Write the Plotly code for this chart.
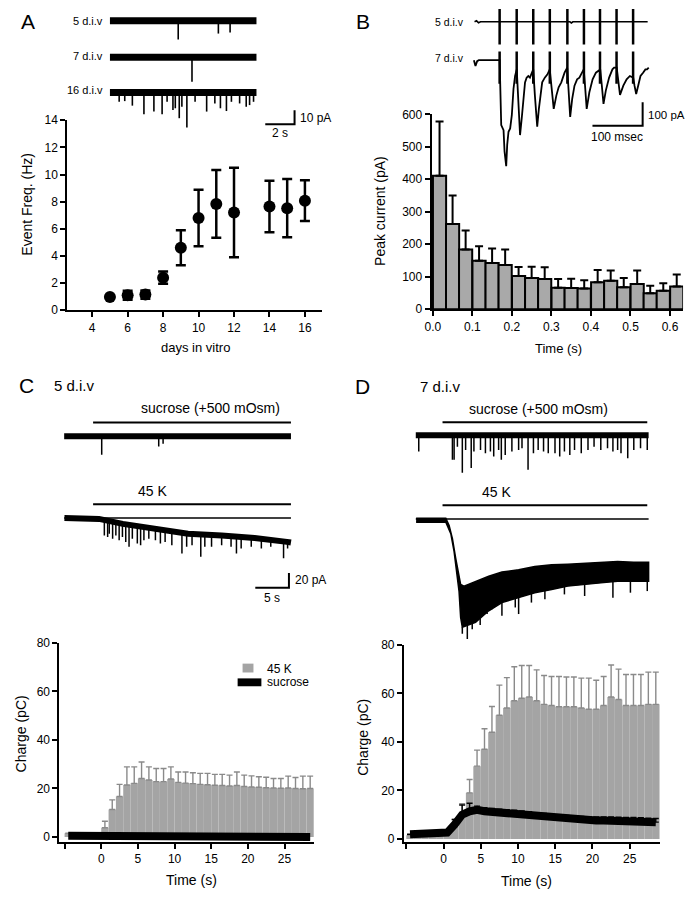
import numpy as np
import plotly.graph_objects as go

W, H = 687, 900
FONT = "Liberation Sans, Arial, Helvetica, sans-serif"

# ---------------- Panel A : event frequency ----------------
days = [5, 6, 7, 8, 9, 10, 11, 12, 14, 15, 16]
freq = [0.97, 1.10, 1.15, 2.40, 4.60, 6.80, 7.83, 7.20, 7.64, 7.52, 8.07]
freq_err = [0.10, 0.33, 0.30, 0.45, 1.29, 2.08, 2.50, 3.30, 1.90, 2.15, 1.50]

# example sweeps (10 s), spikes: time (s) and amplitude (pA)
a_sweep_s = [0.0, 10.0]
a5_spike_s = [4.66, 7.40, 8.20]
a5_spike_pa = [13.6, 9.3, 8.6]
a7_spike_s = [5.60]
a7_spike_pa = [17.9]
a16_spike_s = [0.63, 1.01, 1.53, 2.32, 3.00, 3.56, 3.90, 4.30, 4.46, 4.73, 4.91,
               5.25, 5.81, 6.60, 7.16, 7.54, 7.95, 8.29, 8.85, 9.30, 9.53, 9.80]
a16_spike_pa = [6.7, 6.2, 9.5, 15.7, 13.8, 15.7, 6.7, 12.6, 11.4, 18.6, 10.3,
                25.3, 6.7, 13.8, 7.9, 11.4, 13.4, 6.7, 7.9, 10.3, 9.1, 6.7]

# ---------------- Panel B : peak current during train ----------------
b_time = [0.017, 0.050, 0.083, 0.117, 0.150, 0.183, 0.217, 0.250, 0.283, 0.317,
          0.350, 0.383, 0.417, 0.450, 0.483, 0.517, 0.550, 0.583, 0.617]
b_peak = [411, 262, 184, 149, 142, 136, 102, 96, 93, 66, 65, 64, 83, 88, 68, 78, 49, 57, 70]
b_peak_err = [167, 88, 58, 45, 45, 48, 28, 35, 36, 27, 29, 25, 38, 31, 28, 41, 23, 23, 37]

b_stim_ms = [0, 34, 67, 100, 135, 168, 200, 233, 266]
b5_ms = [-50, -46, -42, -38, 140, 143, 146, 295]
b5_pa = [0, 4, -4, 0, 0, -5, 0, 0]
b7_ms = [-51.3, -48.1, -44.8, -41.5, -3.4, 0, 3.2, 7.8, 9.8, 13.1, 15.1, 17.7, 21.0, 24.3,
         27.6, 30.8, 34.1, 37.4, 40.7, 44.0, 47.3, 50.6, 53.8, 57.1, 60.4, 63.7, 67.0,
         70.3, 74.9, 78.2, 81.5, 84.8, 90.0, 95.3, 99.9, 103.2, 107.8, 113.0, 117.6,
         122.9, 129.4, 134.7, 137.3, 140.6, 144.6, 149.2, 154.4, 159.0, 162.3, 167.6,
         170.2, 173.5, 178.8, 185.3, 191.9, 200.5, 203.7, 207.0, 211.6, 218.2, 224.8,
         228.1, 233.3, 236.0, 239.9, 246.5, 253.1, 259.6, 266.2, 268.8, 272.1, 276.1,
         280.7, 285.9, 290.5, 293.8, 297.1]
b7_pa = [0, -25, -4, 0, 0, 0, -275, -296, -386, -449, -358, -303, -289, -233, -122, -67,
         -39, -178, -317, -247, -150, -94, -74, -67, -74, -53, -39, -150, -282, -206,
         -136, -94, -74, -60, -39, -108, -206, -150, -115, -94, -53, -32, -136, -240,
         -164, -108, -81, -74, -60, -39, -108, -206, -136, -81, -53, -39, -108, -185,
         -129, -74, -39, -32, -32, -81, -147, -108, -81, -67, -74, -108, -143, -108,
         -67, -53, -39, -39, -32]

# ---------------- Panels C / D : charge ----------------
cd_time = [-4.5, -3.5, -2.5, -1.5, -0.5, 0.5, 1.5, 2.5, 3.5, 4.5, 5.5, 6.5, 7.5, 8.5,
           9.5, 10.5, 11.5, 12.5, 13.5, 14.5, 15.5, 16.5, 17.5, 18.5, 19.5, 20.5,
           21.5, 22.5, 23.5, 24.5, 25.5, 26.5, 27.5, 28.5]
c_k = [1.5, 1.5, 1.5, 1.5, 1.5, 3.8, 11.3, 16.7, 21.4, 22.1, 24.1, 23.5, 22.8, 22.8,
       23.9, 22.5, 22.2, 22.0, 21.7, 21.5, 21.3, 21.2, 21.0, 21.2, 20.8, 20.6, 20.5,
       20.3, 20.2, 20.1, 20.2, 20.0, 19.9, 20.0]
c_k_err = [0, 0, 0, 0, 0, 2.7, 4.0, 5.0, 7.5, 6.8, 6.8, 5.4, 5.4, 5.4, 5.0, 4.3, 4.6,
           4.5, 4.5, 4.7, 4.5, 4.6, 4.5, 5.6, 4.7, 4.6, 4.3, 4.3, 3.9, 4.0, 4.9, 4.5,
           5.2, 5.1]
c_suc = [0.5, 0.5, 0.5, 0.5, 0.5, 0.2, 0.1, 0.1, 0.1, 0.0, 0.0, 0.0, 0.0, 0.0, 0.0,
         0.0, 0.0, 0.0, 0.0, 0.0, 0.0, 0.0, 0.0, 0.0, 0.0, 0.0, 0.0, 0.0, 0.0, 0.0,
         0.0, 0.0, 0.0, 0.0]
d_k = [1.5, 1.5, 1.5, 1.5, 1.5, 2.5, 5.0, 10.0, 19.0, 30.0, 37.0, 44.0, 51.0, 54.0,
       57.0, 58.0, 58.5, 57.0, 55.5, 55.0, 54.5, 54.5, 54.5, 54.0, 53.5, 53.5, 55.0,
       58.5, 57.5, 55.0, 55.0, 55.0, 55.5, 55.5]
d_k_err = [0, 0, 0, 0, 0, 0.5, 3.0, 4.5, 5.5, 6.6, 8.4, 10.6, 12.4, 12.5, 14.0, 13.5,
           13.0, 12.7, 11.9, 12.0, 12.5, 12.3, 12.3, 12.3, 12.8, 11.9, 12.0, 13.2, 12.5,
           12.8, 12.8, 12.8, 13.3, 13.3]
d_suc = [1.9, 1.9, 1.9, 1.9, 1.9, 2.6, 6.0, 10.0, 11.4, 12.0, 11.4, 11.1, 10.7, 10.5,
         10.3, 10.0, 9.7, 9.3, 9.0, 8.6, 8.4, 8.2, 8.0, 7.8, 7.7, 7.6, 7.6, 7.6, 7.4,
         7.3, 7.3, 7.2, 7.0, 6.9]
d_suc_err = [0, 0, 0, 0, 0, 0.5, 2.0, 4.0, 3.3, 1.5, 1.5, 1.5, 1.5, 1.5, 1.5, 1.5, 1.5,
             1.5, 1.5, 1.5, 1.5, 1.5, 1.5, 1.5, 1.5, 1.5, 1.5, 1.5, 1.5, 1.5, 1.5, 1.5,
             1.5, 1.5]

# current sweeps for C / D (time s, current pA)
c_app_s = [0.0, 29.4]
c_sweep_s = [-4.3, 29.4]
c_suc_spike_s = [1.28, 9.75, 10.4]
c_suc_spike_pa = [-25, -14, -10]
c_k_s = [-4.26, 0.88, 4.41, 9.26, 14.1, 19.1, 24.0, 28.8, 29.4]
c_k_pa = [0, -1.3, -8, -14.7, -21.3, -23.6, -27, -32.4, -33.3]
c_k_spike_s = [1.67, 2.16, 2.4, 2.9, 3.38, 3.87, 4.36, 4.85, 5.34, 5.83, 6.57, 7.06, 7.55,
               8.28, 9.26, 10.0, 10.7, 11.7, 13.2, 13.9, 14.7, 16.0, 16.6, 17.6, 19.1,
               20.5, 21.3, 22.0, 23.5, 25.0, 26.4, 28.3, 28.9]
c_k_spike_pa = [-23.6, -25.8, -21.3, -28, -23.6, -30.2, -25.8, -32.4, -39.1, -28, -34.7,
                -36.9, -30.2, -28, -30.2, -34.7, -32.4, -36.9, -48, -39.1, -36.9, -52.4,
                -39.1, -39.1, -36.9, -39.1, -48, -41.3, -39.1, -41.3, -39.1, -54.7, -41.3]

d_app_s = [0.0, 30.4]
d_sweep_s = [-3.97, 30.6]
d_suc_spike_s = [-3.53, 1.47, 1.72, 2.21, 2.94, 3.43, 4.26, 4.66, 5.64, 6.37, 7.11, 7.6,
                 8.33, 8.73, 9.31, 10.3, 11.3, 11.8, 12.7, 13.5, 14.2, 15.0, 15.7, 16.7,
                 17.4, 18.1, 18.9, 19.6, 20.6, 21.6, 22.5, 23.5, 24.5, 25.3, 26.0, 26.5,
                 27.5, 28.4, 29.4, 30.4]
d_suc_spike_pa = [-22.2, -33.3, -33.3, -15.6, -51, -20, -44.4, -22.2, -20, -24.4, -22.2,
                  -28.9, -20, -33.3, -26.7, -22.2, -20, -17.8, -46.7, -24.4, -20, -22.2,
                  -24.4, -24.4, -28.9, -22.2, -26.7, -20, -24.4, -20, -15.6, -20, -17.8,
                  -22.2, -20, -24.4, -31.1, -20, -17.8, -20]
d_k_up_s = [-3.92, 0.49, 0.98, 1.47, 1.96, 2.35, 2.69, 3.19, 4.9, 6.86, 8.82, 11.3, 13.7,
            16.2, 18.6, 21.1, 23.5, 26.0, 28.4, 30.6]
d_k_up_pa = [0, 0, -9.8, -27.6, -54.3, -76.5, -89.8, -92, -85.4, -78.7, -72.9, -69.8,
             -65.4, -63.2, -62.3, -60.9, -59.6, -58.7, -59.6, -59.6]
d_k_lo_s = [-3.92, 0.49, 1.23, 1.72, 2.06, 2.45, 2.69, 2.94, 4.9, 6.86, 8.82, 11.3, 13.7,
            16.2, 18.6, 21.1, 23.5, 26.0, 28.4, 30.6]
d_k_lo_pa = [-5.4, -5.4, -20.9, -45.4, -67.6, -98.7, -134.3, -147.6, -140.9, -125.4,
             -114.3, -107.6, -100.9, -96.5, -92, -89.8, -87.6, -85.4, -85.4, -85.4]
d_k_spike_s = [2.94, 3.68, 4.41, 5.59, 6.62, 7.35, 8.82, 10.8, 11.3, 13.2, 15.2, 18.1,
               21.1, 25.3, 27.9, 30.4]
d_k_spike_pa = [-156.6, -163.6, -150.3, -144.6, -129.6, -123.2, -132, -120.9, -129.8,
                -114.3, -109.8, -103.2, -105.4, -107.6, -100.9, -98.7]

# ---------------- helpers ----------------
def dom_x(a, b):
    return [a / W, b / W]


def dom_y(top, bottom):
    return [1 - bottom / H, 1 - top / H]


def segs(ts, y0s, y1s):
    xs, ys = [], []
    for t, a, b in zip(ts, y0s, y1s):
        xs += [t, t, None]
        ys += [a, b, None]
    return xs, ys


def axis(domain, rng, anchor, **kw):
    d = dict(domain=domain, range=rng, anchor=anchor, showline=True, linecolor="black",
             linewidth=2, ticks="outside", ticklen=5, tickwidth=2, tickcolor="black",
             showgrid=False, zeroline=False, fixedrange=True,
             tickfont=dict(size=12, color="black", family=FONT))
    d.update(kw)
    return d


def hidden(domain, rng, anchor):
    return dict(domain=domain, range=rng, anchor=anchor, visible=False,
                showgrid=False, zeroline=False, fixedrange=True)


fig = go.Figure()

# ---------- A main ----------
fig.add_trace(go.Scatter(
    x=days, y=freq, mode="markers", xaxis="x", yaxis="y", cliponaxis=False,
    marker=dict(color="black", size=12),
    error_y=dict(type="data", array=freq_err, color="black", thickness=2.5, width=5)))

# ---------- A sweeps ----------
A_OFF = [0.0, -26.4, -52.1]
for off, st, sa in zip(A_OFF, [a5_spike_s, a7_spike_s, a16_spike_s],
                       [a5_spike_pa, a7_spike_pa, a16_spike_pa]):
    fig.add_trace(go.Scatter(x=a_sweep_s, y=[off, off], mode="lines", xaxis="x5", yaxis="y5",
                             line=dict(color="black", width=7)))
    xs, ys = segs(st, [off] * len(st), [off - a for a in sa])
    fig.add_trace(go.Scatter(x=xs, y=ys, mode="lines", xaxis="x5", yaxis="y5",
                             line=dict(color="black", width=1.6)))
# scale bar A (2 s, 10 pA)
fig.add_trace(go.Scatter(x=[10.6, 12.6, 12.6], y=[-75, -75, -65], mode="lines",
                         xaxis="x5", yaxis="y5", line=dict(color="black", width=2)))

# ---------- B main ----------
fig.add_trace(go.Bar(
    x=b_time, y=b_peak, width=0.0333, xaxis="x2", yaxis="y2",
    marker=dict(color="#a9a9a9", line=dict(color="black", width=2)),
    error_y=dict(type="data", symmetric=False, array=b_peak_err,
                 arrayminus=[0] * len(b_peak_err), color="black", thickness=2, width=4)))

# ---------- B sweeps ----------
B5_OFF = 162.5
fig.add_trace(go.Scatter(x=b5_ms, y=[v + B5_OFF for v in b5_pa], mode="lines",
                         xaxis="x6", yaxis="y6", line=dict(color="black", width=1.6)))
xs, ys = segs(b_stim_ms, [B5_OFF + 54] * 9, [B5_OFF - 96] * 9)
fig.add_trace(go.Scatter(x=xs, y=ys, mode="lines", xaxis="x6", yaxis="y6",
                         line=dict(color="black", width=2.5)))
fig.add_trace(go.Scatter(x=b7_ms, y=b7_pa, mode="lines", xaxis="x6", yaxis="y6",
                         line=dict(color="black", width=1.8)))
xs, ys = segs(b_stim_ms, [37] * 9, [-100] * 9)
fig.add_trace(go.Scatter(x=xs, y=ys, mode="lines", xaxis="x6", yaxis="y6",
                         line=dict(color="black", width=2.5)))
fig.add_trace(go.Scatter(x=[185, 285, 285], y=[-278, -278, -178], mode="lines",
                         xaxis="x6", yaxis="y6", line=dict(color="black", width=2)))

# ---------- C / D charge ----------
for xa, ya, kv, ke, sv, se in [("x3", "y3", c_k, c_k_err, c_suc, None),
                               ("x4", "y4", d_k, d_k_err, d_suc, d_suc_err)]:
    fig.add_trace(go.Bar(
        x=cd_time, y=kv, width=1.0, xaxis=xa, yaxis=ya,
        marker=dict(color="#a4a4a4", line=dict(width=0)),
        error_y=dict(type="data", symmetric=False, array=ke, arrayminus=[0] * len(ke),
                     color="#8a8a8a", thickness=1.4, width=3)))
    sc = dict(x=cd_time, y=sv, mode="lines", xaxis=xa, yaxis=ya,
              line=dict(color="black", width=8))
    if se is not None:
        sc["error_y"] = dict(type="data", symmetric=False, array=se,
                             arrayminus=[0] * len(se), color="black", thickness=1.4, width=3)
    fig.add_trace(go.Scatter(**sc))

# ---------- C sweeps ----------
C_K_OFF = -110.7
fig.add_trace(go.Scatter(x=c_app_s, y=[18.7, 18.7], mode="lines", xaxis="x7", yaxis="y7",
                         line=dict(color="black", width=2)))
fig.add_trace(go.Scatter(x=c_app_s, y=[-92, -92], mode="lines", xaxis="x7", yaxis="y7",
                         line=dict(color="black", width=2)))
fig.add_trace(go.Scatter(x=c_sweep_s, y=[C_K_OFF, C_K_OFF], mode="lines", xaxis="x7",
                         yaxis="y7", line=dict(color="black", width=1.5)))
fig.add_trace(go.Scatter(x=c_sweep_s, y=[0, 0], mode="lines", xaxis="x7", yaxis="y7",
                         line=dict(color="black", width=6)))
xs, ys = segs(c_suc_spike_s, [0] * 3, c_suc_spike_pa)
fig.add_trace(go.Scatter(x=xs, y=ys, mode="lines", xaxis="x7", yaxis="y7",
                         line=dict(color="black", width=1.5)))
fig.add_trace(go.Scatter(x=c_k_s, y=[v + C_K_OFF for v in c_k_pa], mode="lines",
                         xaxis="x7", yaxis="y7", line=dict(color="black", width=6)))
tops = np.interp(c_k_spike_s, c_k_s, c_k_pa) + C_K_OFF
xs, ys = segs(c_k_spike_s, list(tops), [v + C_K_OFF for v in c_k_spike_pa])
fig.add_trace(go.Scatter(x=xs, y=ys, mode="lines", xaxis="x7", yaxis="y7",
                         line=dict(color="black", width=1.5)))
fig.add_trace(go.Scatter(x=[24.1, 29.1, 29.1], y=[-205.3, -205.3, -185.3], mode="lines",
                         xaxis="x7", yaxis="y7", line=dict(color="black", width=2)))

# ---------- D sweeps ----------
D_K_OFF = -112.4
fig.add_trace(go.Scatter(x=d_app_s, y=[17.7, 17.7], mode="lines", xaxis="x8", yaxis="y8",
                         line=dict(color="black", width=2)))
fig.add_trace(go.Scatter(x=d_app_s, y=[-94.7, -94.7], mode="lines", xaxis="x8", yaxis="y8",
                         line=dict(color="black", width=2)))
fig.add_trace(go.Scatter(x=d_sweep_s, y=[D_K_OFF - 1, D_K_OFF - 1], mode="lines",
                         xaxis="x8", yaxis="y8", line=dict(color="black", width=1.5)))
fig.add_trace(go.Scatter(x=d_sweep_s, y=[0, 0], mode="lines", xaxis="x8", yaxis="y8",
                         line=dict(color="black", width=6)))
xs, ys = segs(d_suc_spike_s, [0] * len(d_suc_spike_s), d_suc_spike_pa)
fig.add_trace(go.Scatter(x=xs, y=ys, mode="lines", xaxis="x8", yaxis="y8",
                         line=dict(color="black", width=1.5)))
fig.add_trace(go.Scatter(
    x=d_k_up_s + d_k_lo_s[::-1],
    y=[v + D_K_OFF for v in d_k_up_pa] + [v + D_K_OFF for v in d_k_lo_pa[::-1]],
    mode="lines", fill="toself", fillcolor="black", xaxis="x8", yaxis="y8",
    line=dict(color="black", width=1.5)))
tops = np.interp(d_k_spike_s, d_k_lo_s, d_k_lo_pa) + D_K_OFF
xs, ys = segs(d_k_spike_s, list(tops), [v + D_K_OFF for v in d_k_spike_pa])
fig.add_trace(go.Scatter(x=xs, y=ys, mode="lines", xaxis="x8", yaxis="y8",
                         line=dict(color="black", width=1.5)))

# ---------------- layout ----------------
fig.update_layout(
    width=W, height=H, margin=dict(l=0, r=0, t=0, b=0),
    paper_bgcolor="white", plot_bgcolor="rgba(0,0,0,0)", showlegend=False,
    font=dict(family=FONT, color="black"), barmode="overlay", hovermode=False,
    xaxis=axis(dom_x(61, 318), [2.6, 16.95], "y", tickvals=[4, 6, 8, 10, 12, 14, 16]),
    yaxis=axis(dom_y(115, 308), [0, 14], "x", tickvals=[0, 2, 4, 6, 8, 10, 12, 14]),
    xaxis2=axis(dom_x(429, 683), [-0.003, 0.633], "y2",
                tickvals=[0, 0.1, 0.2, 0.3, 0.4, 0.5, 0.6],
                ticktext=["0.0", "0.1", "0.2", "0.3", "0.4", "0.5", "0.6"]),
    yaxis2=axis(dom_y(109, 307), [0, 600], "x2", tickvals=[0, 100, 200, 300, 400, 500, 600]),
    xaxis3=axis(dom_x(53, 310), [-5.7, 29], "y3", tickvals=[-5, 0, 5, 10, 15, 20, 25],
                ticktext=["", "0", "5", "10", "15", "20", "25"]),
    yaxis3=axis(dom_y(646, 848), [-2, 80], "x3", tickvals=[0, 20, 40, 60, 80]),
    xaxis4=axis(dom_x(401, 660), [-5.32, 29.1], "y4", tickvals=[-5, 0, 5, 10, 15, 20, 25],
                ticktext=["", "0", "5", "10", "15", "20", "25"]),
    yaxis4=axis(dom_y(648, 848), [-1.2, 80], "x4", tickvals=[0, 20, 40, 60, 80]),
    xaxis5=hidden(dom_x(95, 300), [-0.608, 13.24], "y5"),
    yaxis5=hidden(dom_y(5, 125), [-79.3, 6.4], "x5"),
    xaxis6=hidden(dom_x(465, 687), [-64.5, 373.4], "y6"),
    yaxis6=hidden(dom_y(0, 170), [-483.3, 225], "x6"),
    xaxis7=hidden(dom_x(50, 310), [-5.44, 32.8], "y7"),
    yaxis7=hidden(dom_y(395, 605), [-225.3, 54.7], "x7"),
    xaxis8=hidden(dom_x(400, 687), [-5.88, 36.3], "y8"),
    yaxis8=hidden(dom_y(395, 650), [-286.7, 53.3], "x8"),
)


def txt(s, x, y, size=12, xanchor="center", angle=0):
    fig.add_annotation(text=s, x=x / W, y=1 - y / H, xref="paper", yref="paper",
                       showarrow=False, xanchor=xanchor, yanchor="middle", textangle=angle,
                       font=dict(size=size, family=FONT, color="black"))


# panel letters
txt("A", 21, 15, 21)
txt("B", 360, 15, 21)
txt("C", 20, 384, 21)
txt("D", 359, 385, 21)
# A texts
txt("5 d.i.v", 99, 14, 11, "right")
txt("7 d.i.v", 99, 50, 11, "right")
txt("16 d.i.v", 99, 84, 11, "right")
txt("10 pA", 294, 113, 12, "left")
txt("2 s", 276, 128, 12)
txt("Event Freq. (Hz)", 20, 200, 14, angle=-90)
txt("days in vitro", 190, 346, 13)
# B texts
txt("5 d.i.v", 464, 15, 10.5, "right")
txt("7 d.i.v", 464, 52, 10.5, "right")
txt("100 pA", 646, 110, 11.5, "left")
txt("100 msec", 616, 132, 12)
txt("Peak current (pA)", 377, 207, 14, angle=-90)
txt("Time (s)", 557, 347, 13)
# C texts
txt("5 d.i.v", 45, 384, 15, "left")
txt("sucrose (+500 mOsm)", 206, 407, 14)
txt("45 K", 130, 492, 14, "left")
txt("20 pA", 289, 582, 12, "left")
txt("5 s", 268, 600, 12)
txt("Charge (pC)", 14, 738, 14, angle=-90)
txt("Time (s)", 186, 887, 14)
txt("45 K", 261, 672, 12, "left")
txt("sucrose", 261, 686, 12, "left")
# D texts
txt("7 d.i.v", 415, 385, 15, "left")
txt("sucrose (+500 mOsm)", 537, 408, 14)
txt("45 K", 478, 493, 14, "left")
txt("Charge (pC)", 360, 742, 14, angle=-90)
txt("Time (s)", 525, 888, 14)

# legend patches for panel C
fig.add_shape(type="rect", xref="paper", yref="paper", x0=238 / W, x1=249 / W,
              y0=1 - 676 / H, y1=1 - 667 / H, fillcolor="#a4a4a4", line=dict(width=0))
fig.add_shape(type="rect", xref="paper", yref="paper", x0=233 / W, x1=257 / W,
              y0=1 - 690 / H, y1=1 - 682 / H, fillcolor="black", line=dict(width=0))

fig.write_html(
    "out.html",
    config={"displayModeBar": False, "staticPlot": True},
    post_script="document.body.style.margin='0px';document.body.style.overflow='hidden';",
)
